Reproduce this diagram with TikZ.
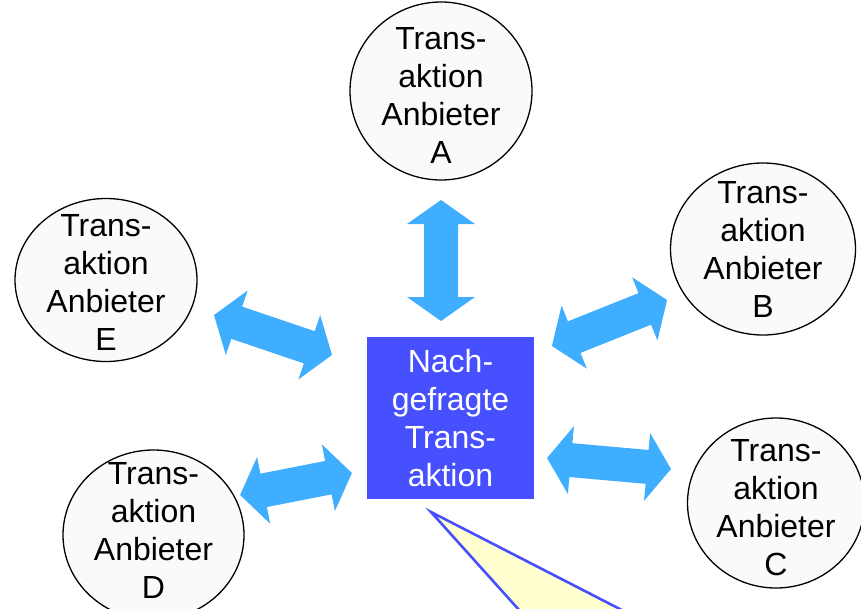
\documentclass[tikz,border=0pt]{standalone}
\usepackage{fontspec}
\setmainfont{Liberation Sans}
\usetikzlibrary{shapes.geometric}

\definecolor{arrowblue}{RGB}{64,174,255}
\definecolor{boxblue}{RGB}{70,80,255}
\definecolor{noteyellow}{RGB}{255,255,208}
\definecolor{circlefill}{RGB}{250,250,250}

\tikzset{
  labeltext/.style={align=center, inner sep=0pt, font=\fontsize{32}{38}\selectfont},
  provider/.style={ellipse, draw=black, line width=1.3pt, fill=circlefill,
    inner sep=0pt},
  request/.style={rectangle, fill=boxblue, text=white, inner sep=0pt,
    minimum width=167pt, minimum height=162pt, labeltext},
  note/.style={draw=boxblue, fill=noteyellow, line width=2.6pt, line join=miter},
  % two-headed block arrow, #1 = length from tip to tip
  pics/dblarrow/.style={code={
    \pgfmathsetmacro\hl{#1/2}
    \fill[arrowblue] ({-\hl},0) -- ({-\hl+24},34) -- ({-\hl+24},17)
      -- ({\hl-24},17) -- ({\hl-24},34) -- ({\hl},0) -- ({\hl-24},-34)
      -- ({\hl-24},-17) -- ({-\hl+24},-17) -- ({-\hl+24},-34) -- cycle;
  }}
}

\begin{document}
\begin{tikzpicture}[x=1pt, y=-1pt]
  \useasboundingbox (0,0) rectangle (861,608);
  \clip (0,0) rectangle (861,608);

  % callout wedge below the request box
  \coordinate (wedgeTip) at (431,512);
  \coordinate (wedgeL) at (600,700);
  \coordinate (wedgeR) at (797,700);
  \draw[note] (wedgeTip) -- (wedgeL) -- (wedgeR) -- cycle;

  % central request
  \node[request] (req) at (450.5,418) {Nach-\\gefragte\\Trans-\\aktion};

  % providers: outline first, caption on top
  \node[provider, minimum width=182pt, minimum height=178pt] (provA) at (441,91) {};
  \node[labeltext] (txtA) at (441,95) {Trans-\\aktion\\Anbieter\\A};

  \node[provider, minimum width=185pt, minimum height=172pt] (provB) at (763,249) {};
  \node[labeltext] (txtB) at (763,249) {Trans-\\aktion\\Anbieter\\B};

  \node[provider, minimum width=177pt, minimum height=170pt] (provC) at (776,503) {};
  \node[labeltext] (txtC) at (776,508) {Trans-\\aktion\\Anbieter\\C};

  \node[provider, minimum width=181pt, minimum height=170pt] (provD) at (153.5,535) {};
  \node[labeltext] (txtD) at (153.5,530) {Trans-\\aktion\\Anbieter\\D};

  \node[provider, minimum width=182pt, minimum height=163pt] (provE) at (106,280) {};
  \node[labeltext] (txtE) at (106,282) {Trans-\\aktion\\Anbieter\\E};

  % exchange arrows between request and providers
  \pic (arrA) [rotate=90]    at (441,260.5) {dblarrow=121};
  \pic (arrB) [rotate=21.8]  at (609.5,323) {dblarrow=124};
  \pic (arrC) [rotate=-5.1]  at (609,463.5) {dblarrow=124.5};
  \pic (arrD) [rotate=11.1]  at (296,484)   {dblarrow=114};
  \pic (arrE) [rotate=-18.7] at (273,335)   {dblarrow=124.6};
\end{tikzpicture}
\end{document}
